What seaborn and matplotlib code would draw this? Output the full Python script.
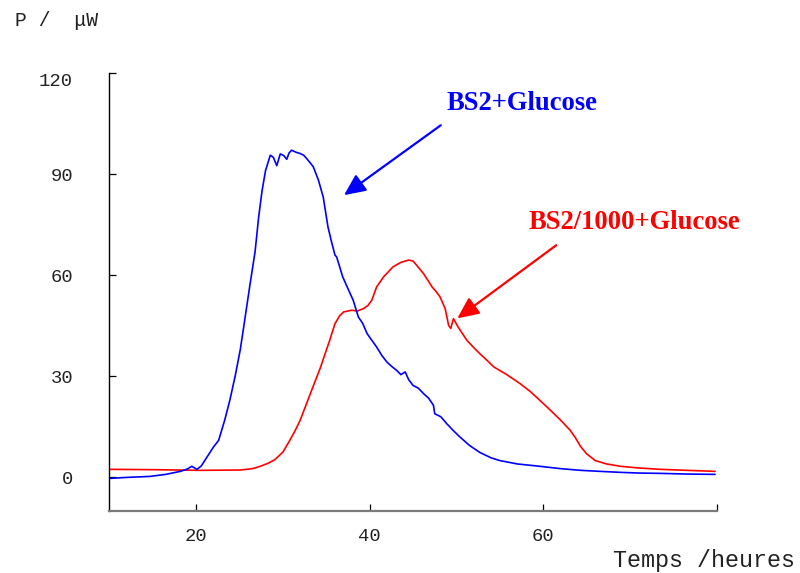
"""Microcalorimetry curves: BS2 vs BS2/1000 with glucose."""

import numpy as np
import pandas as pd
import matplotlib
matplotlib.use('Agg')
import matplotlib.pyplot as plt
import seaborn as sns

# Blue curve: BS2 + Glucose (temps in heures, P in microwatts)
blue_t = [10.0, 12.0, 14.7, 16.5, 18.2, 19.0, 19.5, 20.1, 20.6, 21.0, 21.5, 22.0,
          22.6, 23.3, 23.9, 24.5, 25.1, 25.6, 26.2, 26.8, 27.2, 27.6, 28.0,
          28.55, 28.9, 29.3, 29.7, 30.1, 30.45, 30.7, 31.0, 31.5, 32.0, 32.4,
          32.75, 33.1, 33.5, 34.1, 34.65, 35.2, 35.6, 36.0, 36.2, 36.9, 37.5,
          38.1, 38.7, 39.2, 39.7, 40.3, 40.8, 41.4, 42.0, 42.6, 43.1, 43.6,
          44.1, 44.5, 45.0, 45.6, 46.2, 46.8, 47.35, 47.5, 48.2, 48.9, 49.6,
          50.4, 51.5, 52.7, 54.0, 55.0, 57.0, 59.6, 62.0, 64.3, 66.5, 68.9,
          71.0, 73.5, 76.5, 79.8]
blue_p = [-0.3, 0.0, 0.3, 0.9, 1.8, 2.5, 3.3, 2.4, 3.4, 5.0, 7.0, 9.0,
          11.0, 17.0, 23.0, 30.0, 38.0, 46.6, 57.0, 67.0, 77.0, 85.0, 91.0,
          95.6, 95.0, 92.5, 96.0, 95.5, 94.4, 96.2, 97.1, 96.5, 96.1, 95.6,
          94.6, 93.5, 92.2, 88.2, 83.2, 74.3, 70.0, 66.0, 65.4, 59.5, 56.0,
          52.6, 47.6, 45.7, 42.7, 40.5, 38.7, 36.2, 34.2, 32.8, 31.8, 30.5,
          31.3, 29.0, 27.3, 26.5, 24.9, 23.5, 21.4, 18.9, 18.0, 15.9, 14.0,
          12.0, 9.5, 7.4, 5.8, 5.0, 4.0, 3.3, 2.6, 2.1, 1.8, 1.5,
          1.3, 1.2, 1.0, 0.9]

# Red curve: BS2/1000 + Glucose
red_t = [10.0, 15.0, 20.5, 25.1, 26.5, 27.4, 28.3, 29.1, 30.0, 30.8, 31.4,
         32.0, 33.1, 34.3, 35.4, 36.0, 36.5, 37.0, 37.9, 38.6, 39.3, 39.8,
         40.25, 40.8, 41.6, 42.7, 43.6, 44.5, 45.0, 45.4, 46.2, 47.2, 47.7,
         48.1, 48.7, 49.1, 49.35, 49.65, 50.2, 51.2, 52.0, 52.7, 53.5, 54.3,
         55.8, 57.3, 58.5, 59.6, 60.8, 62.0, 63.1, 63.7, 64.3, 65.0, 66.0,
         67.3, 68.9, 71.0, 73.5, 76.5, 79.8]
red_p = [2.4, 2.3, 2.1, 2.2, 2.6, 3.3, 4.2, 5.3, 7.5, 11.0, 13.8,
         17.0, 24.4, 32.4, 40.7, 45.6, 47.8, 49.1, 49.6, 49.4, 50.1, 51.0,
         52.6, 56.5, 59.5, 62.5, 63.8, 64.5, 64.2, 63.0, 60.5, 56.5, 55.0,
         53.6, 50.1, 45.1, 44.2, 47.1, 44.6, 40.7, 38.5, 36.7, 34.8, 32.8,
         30.5, 27.9, 25.5, 22.9, 20.0, 17.0, 14.0, 11.8, 9.2, 7.0, 5.0,
         4.0, 3.3, 2.8, 2.4, 2.1, 1.8]

x_ticks = [20, 40, 60, 80]
x_tick_labels = ['20', '40', '60', '']
y_ticks = [0, 30, 60, 90, 120]

sns.set_style('white')
plt.rcParams['font.family'] = ['Liberation Mono', 'DejaVu Sans']

fig = plt.figure(figsize=(8.0, 5.73), dpi=100)
ax = fig.add_axes([0.1366, 0.108, 0.7594, 0.7646])

blue_df = pd.DataFrame({'t': blue_t, 'p': blue_p})
red_df = pd.DataFrame({'t': red_t, 'p': red_p})
sns.lineplot(data=red_df, x='t', y='p', color='#ff0000', lw=1.2,
             estimator=None, sort=False, ax=ax)
sns.lineplot(data=blue_df, x='t', y='p', color='#0000ff', lw=1.2,
             estimator=None, sort=False, ax=ax)

ax.set_xlim(10, 80)
ax.set_ylim(-10, 120)
ax.set_xticks(x_ticks)
ax.set_xticklabels(x_tick_labels)
ax.set_yticks(y_ticks)
ax.set_xlabel('')
ax.set_ylabel('')

for side in ['top', 'right']:
    ax.spines[side].set_visible(False)
ax.spines['left'].set_color('black')
ax.spines['left'].set_linewidth(1.0)
ax.spines['bottom'].set_color('#7a7a7a')
ax.spines['bottom'].set_linewidth(1.6)

ax.tick_params(axis='both', direction='in', length=5, width=0.9,
               color='black', labelsize=13.6, labelcolor='#222222')
ax.tick_params(axis='y', pad=26, left=True)
ax.tick_params(axis='x', pad=12, bottom=True)
ax.get_yticklabels()[-1].set_verticalalignment('top')

# annotations
arrow_style = '-|>,head_length=0.65,head_width=0.3'
ax.annotate('', xy=(37.05, 83.75), xytext=(48.2, 104.5),
            arrowprops=dict(arrowstyle=arrow_style, mutation_scale=20,
                            color='#0000ff', lw=1.6, shrinkA=0, shrinkB=0))
ax.text(48.8, 111, 'BS2+Glucose', color='#0000ff', fontsize=19.2,
        fontweight='bold', family='Liberation Serif', ha='left', va='center')

ax.annotate('', xy=(50.1, 47.2), xytext=(61.5, 68.9),
            arrowprops=dict(arrowstyle=arrow_style, mutation_scale=20,
                            color='#ff0000', lw=1.6, shrinkA=0, shrinkB=0))
ax.text(58.3, 75.7, 'BS2/1000+Glucose', color='#ff0000', fontsize=19.2,
        fontweight='bold', family='Liberation Serif', ha='left', va='center')

fig.text(0.019, 0.965, 'P /  \u03bcW', fontsize=14.2, color='#222222',
         ha='left', va='center')
fig.text(0.994, 0.021, 'Temps /heures', fontsize=16.8, color='#222222',
         ha='right', va='center')

fig.savefig('out.png', dpi=100)
